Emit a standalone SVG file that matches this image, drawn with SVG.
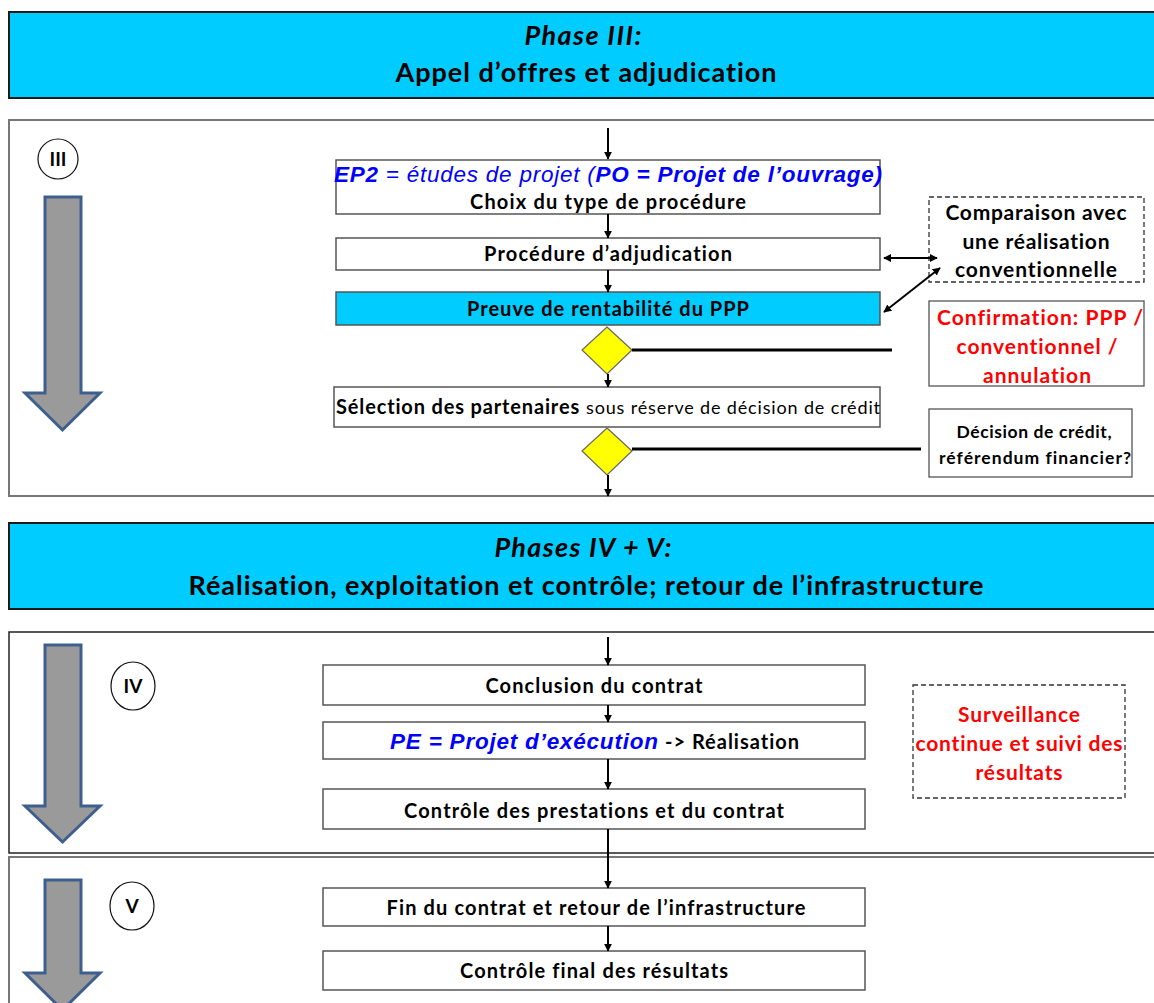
<svg xmlns="http://www.w3.org/2000/svg" width="1154" height="1003" viewBox="0 0 1154 1003">
  <style>
    text { font-variant-ligatures: none; }
    .banner { fill: #00CCFF; stroke: #1a1a1a; stroke-width: 2; }
    .panel { fill: none; stroke: #777; stroke-width: 2; }
    .box { fill: #fff; stroke: #555; stroke-width: 1.5; }
    .boxc { fill: #00CCFF; stroke: #555; stroke-width: 1.5; }
    .dash { fill: #fff; stroke: #333; stroke-width: 1.3; stroke-dasharray: 5 3; }
    .dia { fill: #FFFF00; stroke: #666; stroke-width: 1.2; }
    .big { fill: #9a9a9a; stroke: #3d5f8d; stroke-width: 3; stroke-linejoin: miter; }
    .ring { fill: #fff; stroke: #111; stroke-width: 1.2; }
    .t { font-family: Lato, "Liberation Sans", sans-serif; font-weight: bold; fill: #000; text-anchor: middle; }
    .red { fill: #FF0000; }
    .blue { font-family: "Liberation Sans", Arial, sans-serif; fill: #0000FF; font-style: italic; }
    .flow { stroke: #000; stroke-width: 2; fill: none; }
    .thick { stroke: #000; stroke-width: 3; fill: none; }
  </style>
  <defs>
    <marker id="ah" viewBox="0 0 10 10" refX="9" refY="5" markerWidth="4" markerHeight="4.5" orient="auto" markerUnits="strokeWidth">
      <path d="M0,0 L10,5 L0,10 Z" fill="#000"/>
    </marker>
    <marker id="ahs" viewBox="0 0 10 10" refX="9" refY="5" markerWidth="4" markerHeight="4.5" orient="auto-start-reverse" markerUnits="strokeWidth">
      <path d="M0,0 L10,5 L0,10 Z" fill="#000"/>
    </marker>
  </defs>

  <rect width="1154" height="1003" fill="#fff"/>

  <!-- Phase III header -->
  <g id="banner-phase3">
    <rect class="banner" x="9" y="12" width="1160" height="86"/>
    <text class="t" x="583" y="45" font-size="27" font-style="italic" textLength="117">Phase III:</text>
    <text class="t" x="586" y="82" font-size="27" textLength="381">Appel d’offres et adjudication</text>
  </g>

  <!-- Phase III frame -->
  <g id="panel-phase3">
    <rect class="panel" x="9" y="120" width="1160" height="376"/>
    <path class="big" d="M45,197 H81 V393 H100 L62.5,430 L25,393 H45 Z"/>
    <circle class="ring" cx="58" cy="159" r="20"/>
    <text class="t" x="58" y="166" font-size="19">III</text>
  </g>

  <!-- Phases IV + V header -->
  <g id="banner-phase45">
    <rect class="banner" x="9" y="523" width="1160" height="86"/>
    <text class="t" x="583" y="557" font-size="27" font-style="italic" textLength="177">Phases IV + V:</text>
    <text class="t" x="586" y="595" font-size="27" textLength="795">Réalisation, exploitation et contrôle; retour de l’infrastructure</text>
  </g>

  <!-- Phase IV frame -->
  <g id="panel-phase4">
    <rect x="9" y="632" width="1160" height="221" fill="none" stroke="#222" stroke-width="1.5"/>
    <path class="big" d="M45,645 H81 V806 H100 L62.5,842 L25,806 H45 Z"/>
    <ellipse class="ring" cx="133" cy="686" rx="22" ry="24"/>
    <text class="t" x="133" y="693" font-size="19">IV</text>
  </g>

  <!-- Phase V frame -->
  <g id="panel-phase5">
    <rect class="panel" x="9" y="857" width="1160" height="160"/>
    <path class="big" d="M45,880 H81 V973 H100 L62.5,1010 L25,973 H45 Z"/>
    <ellipse class="ring" cx="132" cy="906" rx="22" ry="24"/>
    <text class="t" x="132" y="913" font-size="19">V</text>
  </g>

  <!-- Phase III steps -->
  <g id="node-ep2">
    <rect class="box" x="336" y="160" width="544" height="54"/>
    <text class="blue" x="608" y="182" font-size="22.5" text-anchor="middle" textLength="548"><tspan font-weight="bold">EP2</tspan> = études de projet (<tspan font-weight="bold">PO = Projet de l’ouvrage)</tspan></text>
    <text class="t" x="608" y="209" font-size="20" textLength="276">Choix du type de procédure</text>
  </g>
  <g id="node-procedure">
    <rect class="box" x="336" y="238" width="544" height="32"/>
    <text class="t" x="608" y="261" font-size="20" textLength="248">Procédure d’adjudication</text>
  </g>
  <g id="node-preuve">
    <rect class="boxc" x="336" y="292" width="544" height="33"/>
    <text class="t" x="608" y="316" font-size="20" textLength="282">Preuve de rentabilité du PPP</text>
  </g>
  <g id="node-decision1">
    <polygon class="dia" points="607,327 632,350 607,374 582,350"/>
  </g>
  <g id="node-selection">
    <rect class="box" x="334" y="387" width="546" height="40"/>
    <text x="336" y="414" font-size="20" font-family="Lato, 'Liberation Sans', sans-serif" textLength="544"><tspan font-weight="bold">Sélection des partenaires</tspan> <tspan font-size="18">sous réserve de décision de crédit</tspan></text>
  </g>
  <g id="node-decision2">
    <polygon class="dia" points="607,428 632,451 607,475 582,451"/>
  </g>
  <g id="node-comparaison">
    <rect class="dash" x="929" y="197" width="215" height="85"/>
    <text class="t" x="1036" y="220" font-size="21" textLength="181">Comparaison avec</text>
    <text class="t" x="1036" y="249" font-size="21" textLength="147">une réalisation</text>
    <text class="t" x="1036" y="277" font-size="21" textLength="162">conventionnelle</text>
  </g>
  <g id="node-confirmation">
    <rect x="929" y="301" width="215" height="85" fill="#fff" stroke="#555" stroke-width="1.3"/>
    <text class="t red" x="1040" y="325" font-size="21" textLength="206">Confirmation: PPP /</text>
    <text class="t red" x="1037" y="354" font-size="21" textLength="161">conventionnel /</text>
    <text class="t red" x="1037" y="383" font-size="21" textLength="108">annulation</text>
  </g>
  <g id="node-credit">
    <rect x="929" y="409" width="203" height="68" fill="#fff" stroke="#555" stroke-width="1.3"/>
    <text class="t" x="1034" y="438" font-size="17.5" textLength="155">Décision de crédit,</text>
    <text class="t" x="1035" y="464" font-size="17.5" textLength="192">référendum financier?</text>
  </g>

  <!-- Phase IV / V steps -->
  <g id="node-conclusion">
    <rect class="box" x="323" y="665" width="542" height="40"/>
    <text class="t" x="594" y="693" font-size="20" textLength="217">Conclusion du contrat</text>
  </g>
  <g id="node-execution">
    <rect class="box" x="323" y="722" width="542" height="37"/>
    <text class="blue" x="390" y="749" font-size="22.5" font-weight="bold" textLength="268">PE = Projet d’exécution</text>
    <text x="665" y="749" font-size="20" font-weight="bold" font-family="Lato, 'Liberation Sans', sans-serif" textLength="134">-&gt; Réalisation</text>
  </g>
  <g id="node-controle">
    <rect class="box" x="323" y="789" width="542" height="40"/>
    <text class="t" x="594" y="818" font-size="20" textLength="380">Contrôle des prestations et du contrat</text>
  </g>
  <g id="node-surveillance">
    <rect class="dash" x="913" y="685" width="212" height="113"/>
    <text class="t red" x="1019" y="722" font-size="21" textLength="122">Surveillance</text>
    <text class="t red" x="1019" y="751" font-size="21" textLength="207">continue et suivi des</text>
    <text class="t red" x="1019" y="780" font-size="21" textLength="87">résultats</text>
  </g>
  <g id="node-fin">
    <rect class="box" x="323" y="888" width="542" height="38"/>
    <text class="t" x="596" y="915" font-size="20" textLength="419">Fin du contrat et retour de l’infrastructure</text>
  </g>
  <g id="node-final">
    <rect class="box" x="323" y="951" width="542" height="39"/>
    <text class="t" x="594" y="978" font-size="20" textLength="268">Contrôle final des résultats</text>
  </g>

  <!-- connectors -->
  <g id="connectors">
    <line class="flow" x1="608" y1="128" x2="608" y2="159" marker-end="url(#ah)"/>
    <line class="flow" x1="608" y1="214" x2="608" y2="238" marker-end="url(#ah)"/>
    <line class="flow" x1="608" y1="270" x2="608" y2="292" marker-end="url(#ah)"/>
    <line class="flow" x1="608" y1="374" x2="608" y2="387" marker-end="url(#ah)"/>
    <line class="flow" x1="608" y1="475" x2="608" y2="496" marker-end="url(#ah)"/>
    <line class="thick" x1="632" y1="350" x2="892" y2="350"/>
    <line class="thick" x1="632" y1="449" x2="921" y2="449"/>
    <line class="flow" x1="884" y1="258" x2="937" y2="258" marker-start="url(#ahs)" marker-end="url(#ah)"/>
    <line class="flow" x1="884" y1="312" x2="940" y2="268" marker-start="url(#ahs)" marker-end="url(#ah)"/>
    <line class="flow" x1="608" y1="637" x2="608" y2="665" marker-end="url(#ah)"/>
    <line class="flow" x1="608" y1="705" x2="608" y2="722" marker-end="url(#ah)"/>
    <line class="flow" x1="608" y1="759" x2="608" y2="789" marker-end="url(#ah)"/>
    <line class="flow" x1="608" y1="829" x2="608" y2="888" marker-end="url(#ah)"/>
    <line class="flow" x1="608" y1="926" x2="608" y2="951" marker-end="url(#ah)"/>
  </g>
</svg>
